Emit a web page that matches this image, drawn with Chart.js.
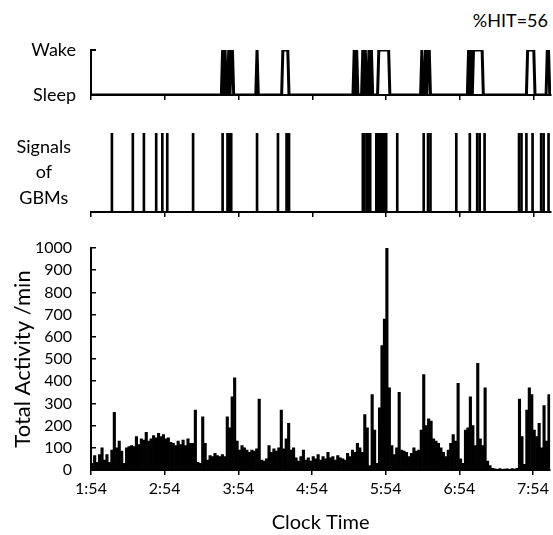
<!DOCTYPE html>
<html lang="en">
<head>
<meta charset="UTF-8">
<title>Wake / GBM / Activity</title>
<script src="https://cdn.jsdelivr.net/npm/chart.js@4.4.0/dist/chart.umd.min.js"></script>
<style>
  body { margin: 0; background: #fff; }
  #wrap { position: relative; width: 553px; height: 535px; font-family: Lato, sans-serif; color: #000; }
  .panel { position: absolute; left: 0; }
  #hit { position: absolute; right: 5px; top: 9px; font-size: 18px; }
</style>
</head>
<body>
<div id="wrap">
  <div id="hit">%HIT=56</div>
  <div class="panel" style="top:0"><canvas id="sleepChart" width="553" height="110"></canvas></div>
  <div class="panel" style="top:110px"><canvas id="gbmChart" width="553" height="120"></canvas></div>
  <div class="panel" style="top:230px"><canvas id="actChart" width="553" height="305"></canvas></div>
</div>
<script>
// minutes after 1:54
var endMinute = 374;
var tickMinutes = [0, 60, 120, 180, 240, 300, 360];
var tickLabels = ['1:54', '2:54', '3:54', '4:54', '5:54', '6:54', '7:54'];

// wake episodes (start, end minute)
var wakeStart = [107, 109, 112, 114, 135, 156, 214, 216, 221, 223, 226, 228, 234, 269, 272, 274, 307, 309, 311, 355, 371];
var wakeEnd   = [107, 109, 112, 115, 135, 160, 214, 216, 221, 223, 226, 228, 242, 269, 272, 275, 307, 309, 318, 360, 372];
var stateLabels = ['Sleep', 'Wake'];

// GBM signal times
var gbmSignals = [17, 34, 43, 53, 58, 62, 83, 107, 111, 112, 113, 114, 135, 152, 159, 160, 161,
  221, 222, 224, 225.5, 227, 232, 233, 234, 235, 236, 237, 238, 239, 240, 249, 270.5, 274, 276,
  297, 308, 314, 316, 320, 348, 350, 354, 359, 366, 368, 372];

// total activity per 2-minute bin
var binMinutes = 2;
var activity = [
  30, 65, 35, 70, 100, 45, 70, 35, 90, 260,
  100, 130, 85, 30, 100, 105, 110, 105, 150, 115,
  140, 135, 170, 130, 140, 155, 145, 165, 150, 160,
  140, 145, 125, 120, 110, 130, 115, 135, 110, 140,
  120, 120, 270, 35, 30, 240, 120, 45, 65, 60,
  75, 65, 60, 70, 60, 240, 190, 330, 415, 130,
  90, 110, 100, 90, 80, 90, 85, 95, 320, 45,
  40, 50, 110, 80, 95, 85, 100, 270, 95, 140,
  210, 90, 100, 55, 40, 60, 90, 45, 55, 40,
  60, 50, 70, 45, 60, 50, 80, 55, 60, 45,
  65, 55, 50, 45, 75, 60, 90, 80, 120, 100,
  80, 250, 190, 20, 340, 180, 30, 280, 560, 680,
  1000, 370, 110, 70, 100, 350, 90, 85, 80, 60,
  75, 100, 85, 90, 180, 430, 200, 230, 220, 140,
  130, 120, 100, 80, 60, 90, 120, 160, 130, 390,
  50, 30, 180, 190, 330, 200, 110, 480, 140, 110,
  370, 40, 20, 8, 5, 3, 6, 2, 4, 5,
  3, 6, 4, 8, 320, 150, 25, 270, 370, 340,
  180, 150, 210, 100, 290, 130, 340
];

var FONT = 'Lato, sans-serif';
var AXIS_W = 91;

function setTicks(list) {
  return function (s) { s.ticks = list.map(function (v) { return { value: v }; }); };
}
// fixed y-axis width, and no extra vertical room for the tick labels
function fixWidth(w) {
  return function (s) { s.width = w; s.paddingTop = 0; s.paddingBottom = 0; };
}
function fixHeight(h) { return function (s) { s.height = h; }; }

function xScale(h, showLabels, title) {
  return {
    type: 'linear', min: 0, max: endMinute, offset: false,
    afterBuildTicks: setTicks(tickMinutes),
    afterFit: fixHeight(h),
    border: { color: '#000', width: 2 },
    grid: { offset: false, drawOnChartArea: false, color: '#000', lineWidth: 1.5, tickLength: 5 },
    ticks: {
      display: showLabels, color: '#000', padding: 4, maxRotation: 0, autoSkip: false,
      font: { family: FONT, size: 16 },
      callback: function (v) { return tickLabels[tickMinutes.indexOf(v)]; }
    },
    title: title ? { display: true, text: title, color: '#000', font: { family: FONT, size: 20 }, padding: 0 } : { display: false }
  };
}

var baseOpts = {
  responsive: false,
  animation: false,
  plugins: { legend: { display: false }, tooltip: { enabled: false } }
};

// wake / sleep step line
var sleepPts = [{ x: 0, y: 0 }];
for (var i = 0; i < wakeStart.length; i++) {
  sleepPts.push({ x: wakeStart[i] - 1, y: 0 }, { x: wakeStart[i], y: 1 },
                { x: wakeEnd[i], y: 1 }, { x: wakeEnd[i] + 1, y: 0 });
}
sleepPts.push({ x: endMinute, y: 0 });

new Chart(document.getElementById('sleepChart'), {
  type: 'line',
  data: { datasets: [{ data: sleepPts, borderColor: '#000', borderWidth: 3, pointRadius: 0, tension: 0 }] },
  options: Object.assign({}, baseOpts, {
    layout: { padding: { top: 50, right: 2, left: 0, bottom: 0 } },
    scales: {
      x: xScale(15, false),
      y: {
        min: 0, max: 1,
        afterBuildTicks: setTicks([0, 1]),
        afterFit: fixWidth(AXIS_W),
        border: { color: '#000', width: 2 },
        grid: { drawOnChartArea: false, color: '#000', lineWidth: 2, tickLength: -5 },
        ticks: {
          color: '#000', padding: 20, font: { family: FONT, size: 18 },
          callback: function (v) { return stateLabels[v]; }
        }
      }
    }
  })
});

// GBM signals
new Chart(document.getElementById('gbmChart'), {
  type: 'bar',
  data: { datasets: [{ data: gbmSignals.map(function (t) { return { x: t, y: 1 }; }),
    backgroundColor: '#000', barThickness: 2 }] },
  options: Object.assign({}, baseOpts, {
    layout: { padding: { top: 23, right: 2, left: 0, bottom: 0 } },
    scales: {
      x: xScale(18, false),
      y: {
        min: 0, max: 1,
        afterBuildTicks: setTicks([0.5]),
        afterFit: fixWidth(AXIS_W),
        border: { display: false },
        grid: { display: false },
        ticks: {
          color: '#000', padding: 12, crossAlign: 'center',
          font: { family: FONT, size: 18, lineHeight: 1.4 },
          callback: function () { return ['Signals', 'of', 'GBMs']; }
        }
      }
    }
  })
});

// total activity
new Chart(document.getElementById('actChart'), {
  type: 'bar',
  data: { datasets: [{ data: activity.map(function (v, i) { return { x: i * binMinutes + binMinutes / 2, y: v }; }),
    backgroundColor: '#000', borderWidth: 0, barPercentage: 1, categoryPercentage: 1 }] },
  options: Object.assign({}, baseOpts, {
    layout: { padding: { top: 18, right: 2, left: 0, bottom: 0 } },
    scales: {
      x: xScale(65, true, 'Clock Time'),
      y: {
        min: 0, max: 1000,
        afterFit: fixWidth(AXIS_W),
        border: { color: '#000', width: 2 },
        grid: { drawOnChartArea: false, color: '#000', lineWidth: 1.5, tickLength: -5 },
        ticks: {
          stepSize: 100, autoSkip: false, color: '#000', padding: 24, font: { family: FONT, size: 16 },
          callback: function (v) { return String(v); }
        },
        title: { display: true, text: 'Total Activity /min', color: '#000',
          font: { family: FONT, size: 22 }, padding: { top: 10, bottom: 0 } }
      }
    }
  })
});
</script>
</body>
</html>
